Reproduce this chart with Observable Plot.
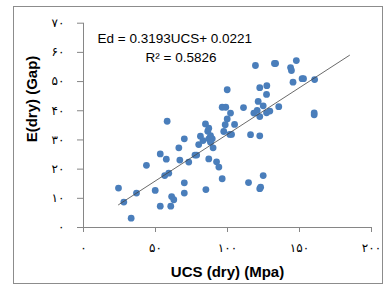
<!DOCTYPE html>
<html>
<head>
<meta charset="utf-8">
<script src="https://cdn.jsdelivr.net/npm/d3@7"></script>
<script src="https://cdn.jsdelivr.net/npm/@observablehq/plot@0.6"></script>
<style>
  html, body { margin: 0; padding: 0; background: #fff; }
  #wrap { position: relative; width: 383px; height: 284px; overflow: hidden; }
  #border { position: absolute; left: 13px; top: 6px; width: 368px; height: 276px; border: 1px solid #8c8c8c; pointer-events: none; }
  #chart { position: absolute; left: 0; top: 0; }
</style>
</head>
<body>
<div id="wrap"><div id="chart"></div><div id="border"></div></div>
<script>
// Data
const ucs = [24.3, 28.0, 33.1, 36.8, 43.7, 49.8, 53.3, 53.3, 57.5, 58.1,
             56.4, 59.2, 60.6, 61.2, 62.7, 66.2, 66.9, 70.0, 70.0, 70.0,
             73.1, 77.4, 78.6, 80.0, 81.2, 83.0, 84.7, 85.0, 86.3, 87.0,
             87.0, 88.2, 89.4, 88.2, 90.0, 87.0, 92.4, 94.0, 96.3, 96.3,
             98.8, 99.8, 99.8, 98.4, 97.4, 101.6, 102.8, 102.1, 104.9, 111.1,
             114.6, 116.0, 118.3, 119.4, 120.6, 121.3, 122.4, 122.4, 122.4, 122.4,
             123.0, 124.8, 124.8, 127.1, 127.3, 127.1, 129.4, 132.6, 133.4, 135.6,
             143.8, 144.4, 145.5, 147.8, 151.8, 152.8, 160.2, 160.2, 160.5];
const edry = [13.5, 8.7, 3.2, 11.8, 21.3, 12.7, 25.2, 7.3, 23.4, 36.4,
              17.8, 18.6, 7.3, 10.6, 9.5, 27.3, 23.1, 30.4, 15.3, 11.8,
              22.4, 24.8, 24.8, 28.4, 31.3, 29.8, 35.5, 13.0, 33.0, 34.0,
              30.4, 31.5, 30.4, 29.2, 27.3, 23.5, 22.5, 20.7, 16.7, 41.2,
              41.2, 47.2, 37.2, 35.2, 32.9, 31.9, 31.9, 39.2, 35.3, 41.1,
              15.4, 31.8, 39.2, 55.5, 40.1, 43.2, 47.9, 38.0, 31.4, 13.3,
              13.8, 17.8, 41.7, 45.6, 48.6, 39.3, 39.9, 56.2, 56.2, 41.4,
              54.8, 53.8, 49.8, 57.2, 51.0, 51.0, 38.6, 39.3, 50.7];
const xTicks = [0, 50, 100, 150, 200];
const yTicks = [0, 10, 20, 30, 40, 50, 60, 70];
const slope = 0.3193, intercept = 0.0221;
const trendRange = [24.3, 184.7];
const equationText = "Ed = 0.3193UCS+ 0.0221";
const r2Text = "R\u00B2 = 0.5826";
const xTitle = "UCS (dry) (Mpa)";
const yTitle = "E(dry) (Gap)";

const points = ucs.map((u, i) => ({u, e: edry[i]}));
const trend = trendRange.map(u => ({u, e: slope * u + intercept}));
const fa = v => String(v).replace(/\d/g, d => "۰۱۲۳۴۵۶۷۸۹"[+d]);
const gray = "#868686";

const chart = Plot.plot({
  width: 383, height: 284,
  marginLeft: 83, marginRight: 12, marginTop: 22.7, marginBottom: 57,
  x: {domain: [0, 200]},
  y: {domain: [0, 70]},
  style: {background: "transparent", fontFamily: "DejaVu Sans", color: "#000"},
  marks: [
    Plot.axisY({ticks: yTicks, tickSize: 6, tickPadding: 13, tickFormat: fa, label: null, stroke: gray, fontSize: 12, fill: "#000"}),
    Plot.axisX({ticks: xTicks, tickSize: 5, tickPadding: 11, tickFormat: fa, label: null, stroke: gray, fontSize: 12, fill: "#000"}),
    Plot.ruleX([0], {stroke: gray}),
    Plot.ruleY([0], {stroke: gray}),
    Plot.dot(points, {x: "u", y: "e", r: 3.4, fill: "#4a7ebb", stroke: "none"}),
    Plot.line(trend, {x: "u", y: "e", stroke: "#444", strokeWidth: 0.8}),
    Plot.text([equationText], {frameAnchor: "top-left", textAnchor: "start", lineAnchor: "middle", dx: 14, dy: 15.5, fontSize: 13.5, fontFamily: "Liberation Sans", fill: "#000"}),
    Plot.text([r2Text], {frameAnchor: "top-left", textAnchor: "start", lineAnchor: "middle", dx: 62, dy: 34.5, fontSize: 13.5, fontFamily: "Liberation Sans", fill: "#000"}),
    Plot.text([xTitle], {frameAnchor: "bottom", lineAnchor: "middle", dy: 45, fontSize: 15, fontWeight: "bold", fontFamily: "Liberation Sans", fill: "#000"}),
    Plot.text([yTitle], {frameAnchor: "left", rotate: -90, lineAnchor: "middle", dx: -51, dy: 17, fontSize: 15, fontWeight: "bold", fontFamily: "Liberation Sans", fill: "#000"})
  ]
});
document.getElementById("chart").appendChild(chart);
</script>
</body>
</html>
